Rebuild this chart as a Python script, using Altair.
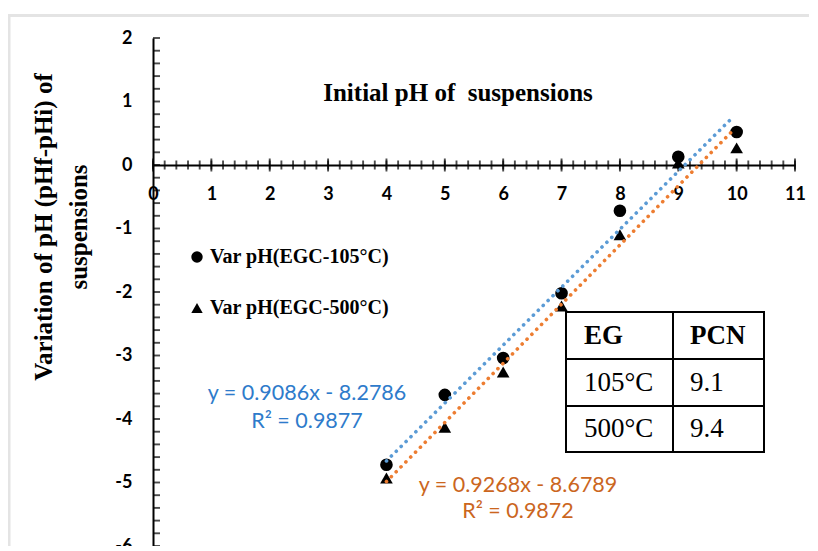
import altair as alt
import pandas as pd

# ---------------- data ----------------
ph_initial = [4, 5, 6, 7, 8, 9, 10]
var_ph_105 = [-4.72, -3.62, -3.04, -2.02, -0.72, 0.13, 0.52]
var_ph_500 = [-4.93, -4.13, -3.26, -2.22, -1.10, 0.03, 0.27]
series_names = ["Var pH(EGC-105°C)", "Var pH(EGC-500°C)"]
eq_105 = ["y = 0.9086x - 8.2786", "R² = 0.9877"]
eq_500 = ["y = 0.9268x - 8.6789", "R² = 0.9872"]
table_header = ["EG", "PCN"]
table_temp = ["105°C", "500°C"]
table_pcn = ["9.1", "9.4"]
x_title = "Initial pH of\u00a0 suspensions"
y_title = ["Variation of pH (pHf-pHi) of", "suspensions"]

# ---------------- layout / style ----------------
W, H = 642, 508
XMIN, XMAX = 0, 11
YMIN, YMAX = -6, 2
Y0_FROM_BOTTOM = H * (0 - YMIN) / (YMAX - YMIN)

SERIF = "Liberation Serif"
SANS = "Lato"
BLUE_LINE, ORANGE_LINE = "#5B9BD5", "#ED7D31"
BLUE_TXT, ORANGE_TXT = "#2E7BCB", "#CB661E"

df = pd.DataFrame({
    "ph": ph_initial * 2,
    "var": var_ph_105 + var_ph_500,
    "series": [series_names[0]] * len(ph_initial) + [series_names[1]] * len(ph_initial),
})

# axis tick positions (minor every 0.2, major every 1)
x_minor_pos = pd.DataFrame({"t": [i / 5 for i in range(XMIN * 5, XMAX * 5 + 1)], "z": 0.0})
x_major_pos = pd.DataFrame({"t": [float(i) for i in range(XMIN, XMAX + 1)], "z": 0.0})
y_minor_pos = pd.DataFrame({"t": [i / 5 for i in range(YMIN * 5, YMAX * 5 + 1)], "z": 0.0})

xs = alt.Scale(domain=[XMIN, XMAX], nice=False, zero=False)
ys = alt.Scale(domain=[YMIN, YMAX], nice=False, zero=False)

one = pd.DataFrame({"a": [0]})

x_axis = alt.Axis(
    orient="bottom", offset=-Y0_FROM_BOTTOM, title=None, tickCount=11, ticks=False,
    domain=True, domainColor="black", domainWidth=2, grid=False, labels=True,
    labelFont=SANS, labelFontSize=18, labelFontWeight="bold", labelColor="black",
    labelPadding=20, labelFlush=False, labelOverlap=False, labelExpr="'' + datum.value")
y_axis = alt.Axis(
    orient="left", title=None, tickCount=8, ticks=False, domain=True, domainColor="black",
    domainWidth=2, grid=False, labels=True, labelFont=SANS, labelFontSize=18,
    labelFontWeight="bold", labelColor="black", labelPadding=21, labelFlush=False,
    labelOverlap=False, labelExpr="'' + datum.value")

points = alt.Chart(df).mark_point(filled=True, opacity=1, color="black", size=160).encode(
    x=alt.X("ph:Q", scale=xs, axis=x_axis),
    y=alt.Y("var:Q", scale=ys, axis=y_axis),
    shape=alt.Shape("series:N", scale=alt.Scale(domain=series_names,
                                                 range=["circle", "triangle-up"]),
                    legend=alt.Legend(orient="none", legendX=34, legendY=209, title=None,
                                      labelFont=SERIF, labelFontSize=20,
                                      labelFontWeight="bold", labelColor="black",
                                      labelLimit=0,
                                      symbolFillColor="black", symbolStrokeColor="black",
                                      symbolStrokeWidth=0,
                                      symbolSize=130, rowPadding=31, labelOffset=3,
                                      padding=0)),
)

# grey frame of the original figure
frame_top = alt.Chart(one).mark_rule(color="#e4e4e4", strokeWidth=3).encode(
    x=alt.value(-145), x2=alt.value(W + 60), y=alt.value(-22.5))
frame_left = alt.Chart(one).mark_rule(color="#e4e4e4", strokeWidth=3).encode(
    x=alt.value(-144), y=alt.value(-24), y2=alt.value(H + 40))

trend = alt.Chart(df).transform_regression(
    "ph", "var", groupby=["series"], extent=[4, 9.95]
).mark_line(strokeDash=[0.1, 6.8], strokeCap="round", strokeWidth=3.6).encode(
    x=alt.X("ph:Q", scale=xs, axis=x_axis),
    y=alt.Y("var:Q", scale=ys, axis=y_axis),
    color=alt.Color("series:N", scale=alt.Scale(domain=series_names,
                                                 range=[BLUE_LINE, ORANGE_LINE]),
                    legend=None),
)

x_minor = alt.Chart(x_minor_pos).mark_tick(
    orient="vertical", size=9, thickness=1.9, color="black").encode(
    x=alt.X("t:Q", scale=xs, axis=x_axis), y=alt.Y("z:Q", scale=ys, axis=y_axis))
x_major = alt.Chart(x_major_pos).mark_tick(
    orient="vertical", size=13, thickness=1.9, color="black").encode(
    x=alt.X("t:Q", scale=xs, axis=x_axis), y=alt.Y("z:Q", scale=ys, axis=y_axis))
y_ticks = alt.Chart(y_minor_pos).mark_tick(
    orient="horizontal", size=7, thickness=1.9, color="black", xOffset=3.5).encode(
    y=alt.Y("t:Q", scale=ys, axis=y_axis), x=alt.X("z:Q", scale=xs, axis=x_axis))

title_txt = alt.Chart(pd.DataFrame({"t": [x_title]})).mark_text(
    font=SERIF, fontSize=25, fontWeight="bold", color="black", baseline="middle"
).encode(text="t:N", x=alt.value(305), y=alt.value(55))

ytitle_layers = [alt.Chart(pd.DataFrame({"t": [s]})).mark_text(
    font=SERIF, fontSize=25, fontWeight="bold", color="black",
    baseline="middle", angle=270
).encode(text="t:N", x=alt.value(px), y=alt.value(189))
    for s, px in zip(y_title, [-109, -74])]

eq_layers = []
for lines, pos, col in [(eq_105, [(154, 362), (154, 390)], BLUE_TXT),
                        (eq_500, [(365, 454), (365, 480)], ORANGE_TXT)]:
    for s, (px, py) in zip(lines, pos):
        eq_layers.append(alt.Chart(pd.DataFrame({"t": [s]})).mark_text(
            font=SANS, fontSize=21.5, color=col, baseline="alphabetic"
        ).encode(text="t:N", x=alt.value(px), y=alt.value(py)))

# table
TX0, TX1, TXM = 413, 611, 520
TY0, TY1 = 274, 414
ROW_LINES = [321, 368]
ROW_CENTERS = [298, 345, 391]
COL_TEXT = [431, 537]
table_rect = alt.Chart(one).mark_rect(fill="white", stroke="black", strokeWidth=2).encode(
    x=alt.value(TX0), x2=alt.value(TX1), y=alt.value(TY0), y2=alt.value(TY1))
table_lines = [alt.Chart(one).mark_rule(color="black", strokeWidth=2).encode(
    x=alt.value(TX0), x2=alt.value(TX1), y=alt.value(r)) for r in ROW_LINES]
table_lines.append(alt.Chart(one).mark_rule(color="black", strokeWidth=2).encode(
    x=alt.value(TXM), y=alt.value(TY0), y2=alt.value(TY1)))
cells = [(table_header[0], 0, 0, "bold"), (table_header[1], 1, 0, "bold")]
for i, (a, b) in enumerate(zip(table_temp, table_pcn)):
    cells.append((a, 0, i + 1, "normal"))
    cells.append((b, 1, i + 1, "normal"))
table_txt = [alt.Chart(pd.DataFrame({"t": [s]})).mark_text(
    font=SERIF, fontSize=27, fontWeight=w, color="black", align="left", baseline="middle"
).encode(text="t:N", x=alt.value(COL_TEXT[c]), y=alt.value(ROW_CENTERS[r]))
    for s, c, r, w in cells]

chart = alt.layer(
    points, frame_top, frame_left, x_minor, x_major, y_ticks, trend, title_txt,
    *ytitle_layers, *eq_layers, table_rect, *table_lines, *table_txt
).properties(
    width=W, height=H,
    padding={"left": 145, "top": 30, "right": 14, "bottom": 0},
    autosize=alt.AutoSizeParams(type="none"),
    background="white",
).configure_view(stroke=None)

chart.save("out.html", embed_options={"renderer": "svg", "actions": False})
